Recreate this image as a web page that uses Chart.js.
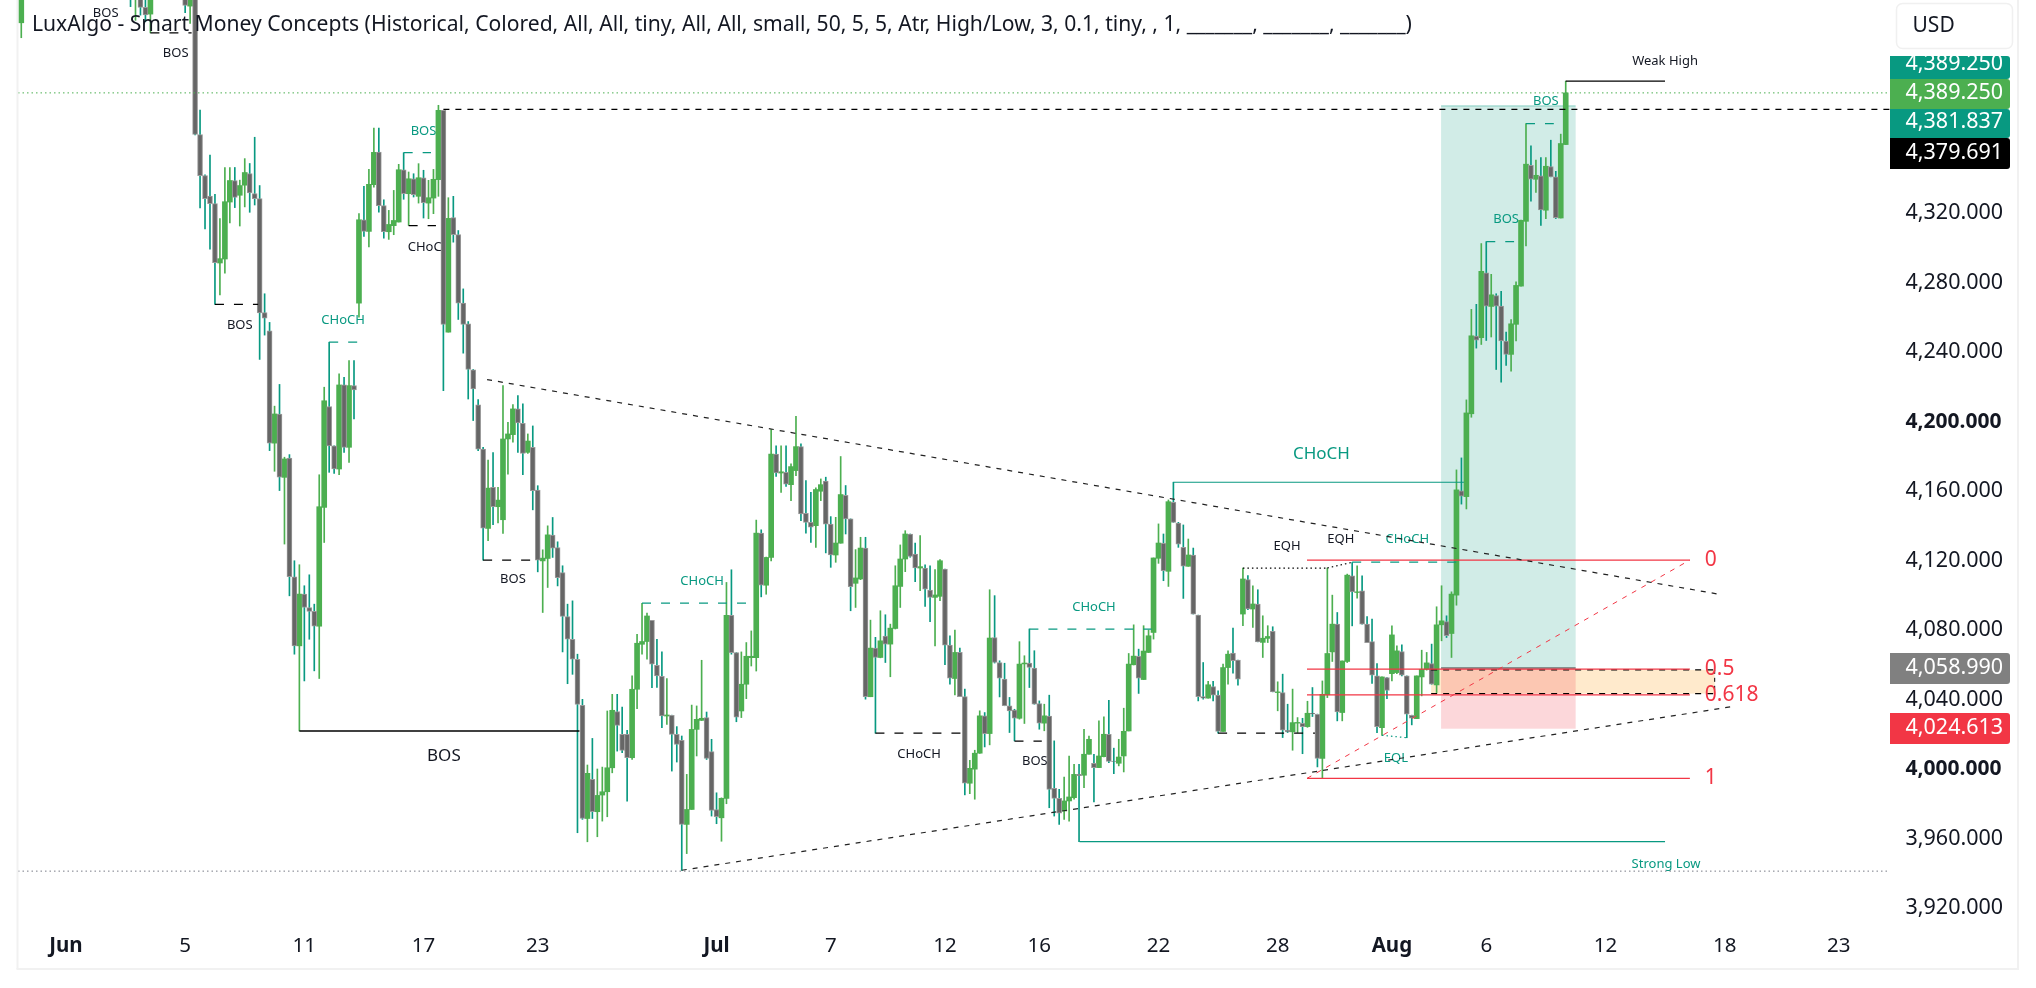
<!DOCTYPE html>
<html><head><meta charset="utf-8"><title>Chart</title>
<style>html,body{margin:0;padding:0;background:#fff;overflow:hidden}canvas{display:block}</style>
<script src="https://cdn.jsdelivr.net/npm/chart.js@4"></script></head><body>
<canvas id="c" width="2036" height="988" style="width:2036px;height:988px"></canvas>
<script>
const FONT='"Noto Sans"';
const xTickIndex=[9,33,57,81,104,140,163,186,205,229,253,276,295,319,343,366];
const xTickLabels=['Jun','5','11','17','23','Jul','7','12','16','22','28','Aug','6','12','18','23'];
const yTicks=[3920,3960,4000,4040,4080,4120,4160,4200,4240,4280,4320];
const N=null;
const opens=[4429.6,N,N,N,N,N,N,N,N,N,N,N,N,N,N,N,N,N,N,N,N,N,
4460,4446,4450,4438.5,4434.6,N,N,N,N,N,N,4450,4439.2,4445,4365.3,4341.6,4329.9,4325.5,
4291.3,4293.6,4326.4,4338.8,4330.3,4336.1,4342.8,4331.3,4328.4,4262.7,
4252.3,4187.6,4204.3,4167.9,4179,4110.7,4070.9,4100.7,4093,4090.7,
4082.2,4150.6,4208.6,4186,4172.7,4221.1,4185.2,4220.7,4268.2,4316.2,
4309.5,4336.4,4355.2,4324.3,4309.3,4312.8,4314.9,4345,4331.2,4339.7,
4329.7,4340.4,4325.8,4328.7,4339.3,4379.2,4251.5,4317.4,4307.6,4268.2,
4256.3,4229.8,4209.6,4184.2,4138.5,4162.1,4151,4143.5,4190,4192.5,
4207.3,4199,4182.3,4185.2,4160.6,4119.8,4121.2,4134.6,4127.5,4113.1,
4087.8,4074.7,4063.2,4036.7,3971.5,3994,3975.4,3985,3986.9,4000.7,
4033,4020,4020,4006.5,4045.9,4071.8,4073.4,4085.6,4059.7,4053.4,
4030.5,4030.9,4019.9,4016.5,3968.1,3976.7,4022.8,4028,4029.6,4010,
3976.7,3971.9,3983.1,4088.5,4067,4033.4,4048.8,4064.1,4064.1,4135.8,
4105.8,4121.8,4181.3,4170.4,4170.8,4163.7,4171.8,4185.6,4147.2,4142,
4140.1,4159.9,4165.7,4141,4123.2,4130,4157.6,4144,4106.9,4109.4,
4127.2,4041.6,4069.6,4064.2,4076.5,4071.9,4080.9,4105.1,4120.9,4135.3,
4123.8,4115.7,4115.7,4103,4098.8,4099.4,4115.1,4071.3,4052.1,4067.1,
4041.7,3991.8,3999.9,4009.1,4030.6,4020.4,4075.7,4061.3,4051.7,4036.4,
4033.9,4029.2,4060.5,4061,4058.1,4037.7,4026.4,4030.4,3988.9,3983.1,
3975.8,3981.6,3983.5,3996.9,3996.4,4008.5,4003.3,4000.8,4007.1,4020,
4004.6,4003.3,4007.5,4021.9,4060,4064.8,4051.5,4067.1,4078.6,4121.3,
4129.9,4113.8,4153.5,4141.6,4127.6,4116.7,4123.2,4088.6,4041.7,4040.8,
4047.5,4042.5,4021.6,4058.4,4066.7,4062.7,4089.2,4109,4092.1,4095,
4072.9,4075.2,4079.2,4044,4044,4022.3,4021.4,4026.4,4026.3,4024.4,
4032.1,4031.5,4006.1,4042.7,4067.4,4083.4,4032.5,4061.9,4111.2,4101.6,
4102.6,4083.4,4073.4,4053.6,4023.8,4052.6,4054.9,4055.5,4067.6,4053.6,
4030.9,4029,4053,4057.4,4060.7,4048.4,4083,4084.9,4078,4100.1,
4160.2,4156.8,4204.5,4249.2,4248.3,4285.7,4266.3,4272.5,4266.5,4246.4,
4238.7,4256,4278,4315.3,4347.6,4339.5,4341.5,4321.7,4346.8,4340.9,
4317.2,4359.5];
const closes=[4450,N,N,N,N,N,N,N,N,N,N,N,N,N,N,N,N,N,N,N,N,N,
4450,4455,4438.5,4434.2,4446,N,N,N,N,N,N,4439.6,4445,4365.3,4341.6,4328.4,4325.5,4291.5,
4293.8,4326.6,4338.8,4329,4335.9,4343.4,4331.6,4328.4,4262.5,4259.6,
4187.6,4204.4,4168,4178.5,4110.7,4070.9,4100.7,4093,4090.7,4082.2,
4151,4212,4186,4172.7,4221.1,4185.2,4220.7,4218.2,4316.2,4309.5,
4336.6,4355,4324.3,4309.3,4313.5,4315.8,4345,4331.2,4339.8,4330.6,
4340.4,4326,4328.9,4339.5,4379.2,4255.9,4317,4307.6,4268.2,4255.9,
4230,4218.8,4184.2,4138.7,4161.7,4151,4154.8,4190,4192.9,4207.3,
4199.2,4181.7,4188.8,4160.2,4120.2,4121.4,4134.8,4127.2,4110.2,4087.8,
4074.7,4063.2,4037.2,3971.5,3997.5,3975.4,3984.8,3986.9,4000.7,4033.8,
4025.1,4010.7,4006.5,4045.9,4072.4,4073.4,4088.1,4060.3,4053.6,4030.5,
4031.1,4019.9,4014.2,3968.1,3976.7,4022.8,4028.6,4029.2,4006.1,3976.1,
3972.5,3983.1,4088.5,4067,4029.9,4048.8,4064.9,4064.9,4135.8,4105.8,
4121.8,4181.3,4170.4,4171.1,4164,4174.1,4185.6,4146.8,4142,4139.2,
4160.9,4163.7,4141,4123.2,4130.1,4158,4144,4105,4110,4127.2,
4041.7,4069.6,4064.2,4073.8,4071.9,4081.1,4105.5,4120.9,4135.3,4122.4,
4115.7,4116.5,4103.6,4098.8,4100.2,4119.9,4071.3,4052.3,4067.1,4041.7,
3991.8,4000.4,4009.1,4030.6,4020.4,4075.4,4061.3,4052.3,4036.4,4033.5,
4029.2,4060.4,4061,4058.5,4037.3,4026.4,4030.6,3988.3,3983.1,3974.5,
3981.6,3983.9,3996.9,3996.2,4008.5,4017.1,4000.8,4007.5,4020,4004.3,
4004.3,4006.9,4021.7,4060.4,4065,4052.3,4067.9,4076.7,4121.5,4130.1,
4114.2,4153.9,4142,4129.5,4116.7,4123.2,4089.2,4041.7,4040.8,4048.5,
4042.5,4021.6,4058.4,4066.1,4062.3,4051.7,4109.4,4092.1,4095,4073.2,
4075.3,4076.3,4044.4,4044.4,4022.3,4021.4,4026.7,4026.8,4024.4,4032.1,
4031.7,4006.1,4043,4066.5,4083.4,4032.9,4062.2,4111.6,4102,4102,
4083.4,4072.8,4054,4024.4,4053,4045.3,4077.2,4068,4054,4031.5,
4029.2,4053.6,4057.4,4061.1,4048.8,4083,4085.3,4076.7,4100.7,4160.7,
4157,4205,4249.4,4246.9,4286.5,4266.5,4273,4266.5,4246.4,4238.7,
4256.3,4278.4,4315.9,4348.2,4339.5,4341.8,4321.9,4347,4340.9,4317.4,
4360.1,4389.25];
const highs=[4455,N,N,N,N,N,N,N,N,N,N,N,N,N,N,N,N,N,N,N,N,N,
4465,4460,4455,4445,4450,N,N,N,N,N,N,4455,4450,4450,4379.3,4342,4353.4,4330.9,
4316.9,4346.3,4346.3,4346.3,4339,4351.4,4348.6,4363.7,4335.9,4273.6,
4257.1,4208.9,4221.4,4179.5,4181,4119.9,4117.6,4105.5,4111.8,4094.9,
4169.4,4219.8,4245.7,4186,4227.5,4225.5,4235.1,4235.1,4319.7,4335.4,
4345.2,4369,4369,4327.7,4321.6,4333.1,4348.1,4354.8,4343.7,4342.7,
4348.5,4344.7,4338.9,4345.2,4382.1,4379.2,4328.9,4329.7,4310,4276.4,
4257.6,4230,4212.7,4185.2,4177.9,4182.1,4162.1,4220.7,4199.6,4209.8,
4215,4210.2,4192.9,4197.5,4163.1,4126.2,4140,4144.8,4130.8,4117,
4094.9,4096.8,4066.1,4040.1,4002.3,4017.6,4000,4001.1,4033.4,4043,
4043,4035.7,4022.2,4053.6,4077.6,4095.4,4089.7,4085.6,4074.7,4067.4,
4052,4031,4024.4,4019,3996.9,4036.8,4036.3,4062.6,4032.8,4017.1,
3986.3,3983.4,4107.4,4114.7,4067,4067.4,4072.8,4079.5,4143.3,4137.7,
4122,4195.4,4186.1,4186.1,4186.1,4175.7,4203,4187.2,4166.1,4159.3,
4161.8,4167,4168,4145.3,4144.9,4179.9,4163.2,4144,4126.3,4133.4,
4133.4,4085.7,4075.8,4091.1,4088.8,4083.4,4117,4129,4137.2,4135.3,
4130.1,4134.4,4117.6,4117,4114.8,4120.5,4115.1,4076.7,4080,4069.6,
4046,4005,4010.8,4033.5,4032.5,4103.2,4099.8,4062.3,4060.9,4041.2,
4034.4,4073.3,4065.2,4080.6,4068.1,4039.2,4037.3,4042.5,4016.2,3988.3,
3995.4,4007.5,4002.7,4002.7,4022.9,4019,4008.5,4027.7,4030,4039.6,
4012,4017.1,4035,4066.5,4083,4069,4082.5,4080,4121.5,4141.1,
4135.3,4154.9,4165.1,4142,4140.5,4132.4,4127.2,4088.6,4061.3,4050.4,
4050.4,4045,4060.4,4068,4081.1,4062.7,4115.7,4111.3,4105.5,4103.2,
4088.2,4082.5,4081.9,4050.2,4054.6,4037.3,4046,4029.6,4029.2,4039,
4046.9,4031.6,4050.7,4115.7,4100.1,4090.1,4062.2,4112.2,4118.9,4117,
4111.2,4087.8,4086.3,4060.7,4053,4052.6,4082.4,4070.9,4071.5,4053.6,
4031,4053.6,4068.4,4067.1,4071.9,4093.4,4105.5,4088.2,4102,4172.2,
4179.1,4212.5,4264.6,4267.5,4302.5,4303.6,4284.8,4273.6,4275,4251.5,
4258.8,4280.4,4316,4371.6,4358.7,4350.5,4352,4352,4362,4344.1,
4365.5,4396];
const lows=[4421,N,N,N,N,N,N,N,N,N,N,N,N,N,N,N,N,N,N,N,N,N,
4438.9,4431,4434,4430.2,4423.8,N,N,N,N,N,N,4435.4,4429.3,4365,4323,4310.9,4299.2,4267.5,
4272.9,4285.5,4314.4,4323.2,4312.6,4323.6,4320.5,4324.7,4235.8,4249.8,
4183.3,4171.4,4160.3,4129.5,4099.7,4066.1,4021.9,4050.7,4074.7,4056.5,
4052.1,4130.4,4170.8,4170.2,4169.4,4182.3,4176.5,4201.5,4260.1,4306.6,
4300.5,4335,4320.6,4305.6,4304.9,4307.6,4314.9,4328,4313,4329.3,
4325.8,4317.2,4316.8,4319.7,4329.7,4217.8,4251.5,4303.3,4258.8,4239.4,
4213,4200.6,4183.3,4120.2,4131.4,4140.6,4141.6,4135.6,4169.8,4188.1,
4182.3,4169.4,4181.7,4149.2,4113.5,4090.1,4104.5,4121.8,4105.4,4067.4,
4049.1,4054.5,3963.3,3971,3958.1,3971.5,3961,3970,3972.5,3997.8,
4010.3,4009.4,3981.5,4005.5,4034.7,4066.1,4063.2,4046.8,4047,4023.8,
4025.7,3998.8,4004,3941.6,3951.3,3976.7,4007.5,4027.9,4005.5,3972.9,
3968.5,3958.4,3980,4066.1,4027.2,4029.6,4040.5,4059.3,4056.4,4099.1,
4100.6,4119.8,4168.5,4159.2,4162.7,4154.5,4168.9,4143,4135.7,4130.5,
4127.6,4154.5,4124.4,4116.1,4119,4130,4135.3,4091.1,4093,4109,
4040.2,4041.6,4020.6,4064,4061.3,4053.1,4080.6,4093,4113.6,4121.9,
4107.8,4102.6,4093.6,4084.8,4070.9,4096.9,4060,4048.8,4042.7,4041.7,
3985.1,3985.8,3982.6,4009,4012.7,4013.9,4061,4041.5,4036.4,4021,
4016.2,4028.7,4026.2,4046.9,4037.3,4022.9,4022,3977.7,3972.9,3968.1,
3971,3970,3982.6,3958.2,3989.3,4008.5,3981,4000.8,4007,4003.7,
3997.3,4001.8,3998.3,4021.9,4059.9,4043.5,4051.5,4067,4074.8,4118.4,
4108.4,4105.1,4142,4127.6,4098.2,4116.7,4089.2,4039.2,4040.2,4040.8,
4039.2,4020.6,4021.6,4048.8,4055.2,4048.3,4082.5,4091.7,4081.5,4073.2,
4064.2,4072.8,4044.4,4033.5,4018.1,4021,4010.8,4021,4008.8,4024,
4030.2,4001.2,3995,4041.1,4061.9,4027.7,4027.7,4061.3,4082.4,4098.4,
4083.4,4072.8,4049.2,4020.9,4019.4,4040.5,4050.7,4054.9,4053.6,4018,
4025.4,4029,4042.1,4056.9,4048.8,4044,4073.8,4075.7,4064.2,4094.3,
4152.5,4149.7,4202.5,4242.3,4244.4,4246.7,4248.7,4230,4222.7,4232.3,
4229.1,4246.4,4278,4301.1,4326.9,4331.9,4313,4316.9,4340.9,4316.9,
4317.2,4359.5];

// overlay levels, as [index, price, index, price]
const dashedBlack=[[26,4423.8,34.3,4423.8],[39,4267.5,47.7,4267.5],[78,4312.8,83.5,4312.8],[93,4120.3,102.6,4120.3],
 [172,4020.6,189.4,4020.6],[200,4016.1,205.5,4016.1],[241,4020.6,260.5,4020.6]];
const dashedTeal=[[62,4245.7,67.7,4245.7],[77,4354.8,82.5,4354.8],[125,4095.5,146.3,4095.5],[203,4080.5,227.6,4080.5],
 [268,4119.1,289,4119.1],[295,4303.6,300.6,4303.6],[303,4371.6,308.6,4371.6]];
const solidBlack=[[56,4021.9,112.4,4021.9],[311,4396,331,4396]];
const solidTeal=[[232,4165.1,290.5,4165.1],[213.1,3958.2,331,3958.2]];
const trendLines=[[93.8,4224.2,342.5,4100.3],[133,3941.7,344.5,4035.9]];
const dottedBlack=[[246,4115.7,263,4115.7],[263,4115.7,268,4119]];
const dottedTeal=[[274,4019.4,279,4018]];
const fibTrend=[258.9,3994.6,336,4120.3];
const fibLevels=[4120.3,4057.5,4042.7,3994.6];
const fibNames=['0','0.5','0.618','1'];
const fibSpan=[258.9,336];
const fibLabelAt=339;
const lastPrice=4389.25, strongLowLevel=3941.2, prevHigh=4379.7;
const greenBox=[285.9,313,4381.6,4058];
const redBox=[285.9,313,4058,4023.2];
const orangeBox=[283.9,341,4057.1,4043.4];
// small labels: text, index, price
const blackLabels=[['BOS',17,4435],['BOS',31.1,4411.9],['BOS',44,4255.7],['CHoCH',82.2,4300.5],['BOS',99,4109],
 ['CHoCH',180.8,4008.5],['BOS',204.1,4004.6],['EQH',254.9,4128],['EQH',265.7,4132.2],['Weak High',331,4407.7]];
const tealLabels=[['CHoCH',64.8,4258.6],['BOS',81,4367.3],['CHoCH',137.1,4108.2],['CHoCH',216,4093],['CHoCH',279.1,4132.2],
 ['EQL',276.8,4006.2],['BOS',299,4316.3],['BOS',307,4384.6],['Strong Low',331.2,3945.4]];
const bigLabels=[['BOS',85.1,4007.5,'#131722'],['CHoCH',261.8,4181,'#089981']];
const tagValues=[4389.25,4389.25,4381.837,4379.691,4058.99,4024.613];
const tagColours=['#089981','#4CAF50','#089981','#000000','#808080','#F23645'];
const titleText='LuxAlgo - Smart Money Concepts (Historical, Colored, All, All, tiny, All, All, small, 50, 5, 5, Atr, High/Low, 3, 0.1, tiny, , 1, _______, _______, _______)';

const XMIN=-0.66,XMAX=376.3,YMIN=3907.31,YMAX=4442.72;
const body=(up)=>opens.map((o,i)=>o===null?null:((closes[i]>=o)===up?{x:i,y:[o,closes[i]]}:null)).filter(Boolean);
const wick=(up)=>opens.map((o,i)=>o===null?null:((closes[i]>=o)===up?{x:i,y:[lows[i],highs[i]]}:null)).filter(Boolean);
const seg=(s,color,dash,width,order)=>({type:'line',data:[{x:s[0],y:s[1]},{x:s[2],y:s[3]}],borderColor:color,borderDash:dash,borderWidth:width,pointRadius:0,tension:0,order:order||2,fill:false});
const ds=[];
ds.push({type:'bar',data:wick(true),backgroundColor:'#4CAF50',barThickness:1,grouped:false,order:9,borderWidth:0});
ds.push({type:'bar',data:wick(false),backgroundColor:'#089981',barThickness:1,grouped:false,order:8,borderWidth:0});
ds.push({type:'bar',data:body(true),backgroundColor:'#4CAF50',barThickness:5,grouped:false,order:7,borderWidth:0});
ds.push({type:'bar',data:body(false),backgroundColor:'#666666',borderColor:'#9a9a9a',borderWidth:1,borderSkipped:false,barThickness:5,grouped:false,order:6});
dashedBlack.forEach(s=>ds.push(seg(s,'#000000',[9,10],1.3)));
dashedTeal.forEach(s=>ds.push(seg(s,'#089981',[9,10],1.2)));
solidBlack.forEach(s=>ds.push(seg(s,'#000000',[],1.4)));
solidTeal.forEach(s=>ds.push(seg(s,'#089981',[],1.1)));
trendLines.forEach(s=>ds.push(seg(s,'#222222',[5,6],1.2)));
dottedBlack.forEach(s=>ds.push(seg(s,'#000000',[1.5,3],1.2)));
dottedTeal.forEach(s=>ds.push(seg(s,'#089981',[1.5,3],1.2)));
ds.push(seg(fibTrend,'#F23645',[5,6],1));
fibLevels.forEach(v=>ds.push(seg([fibSpan[0],v,fibSpan[1],v],'#F23645',[],1.3)));
ds.push(seg([XMIN,lastPrice,XMAX,lastPrice],'#4CAF50',[1.5,3],1));
ds.push(seg([XMIN,strongLowLevel,XMAX,strongLowLevel],'#787B86',[1.5,3],1));
ds.push(seg([85,prevHigh,XMAX,prevHigh],'#000000',[6,6],1.3));
ds.push(seg([orangeBox[0],orangeBox[2],orangeBox[1],orangeBox[2]],'#000000',[6,6],1.2));
ds.push(seg([orangeBox[0],orangeBox[3],orangeBox[1],orangeBox[3]],'#000000',[6,6],1.2));
ds.push(seg([orangeBox[1],orangeBox[2],orangeBox[1],orangeBox[3]],'#000000',[4,4],1));

const fmt=v=>v.toLocaleString('en-US',{minimumFractionDigits:3,maximumFractionDigits:3});
const under={id:'under',beforeDatasetsDraw(ch){
  const c=ch.ctx,X=ch.scales.x,Y=ch.scales.y;
  const rect=(b,fill)=>{const x1=X.getPixelForValue(b[0]),x2=X.getPixelForValue(b[1]),y1=Y.getPixelForValue(b[2]),y2=Y.getPixelForValue(b[3]);c.fillStyle=fill;c.fillRect(x1,y1,x2-x1,y2-y1);};
  c.save();
  rect(orangeBox,'rgba(255,152,0,0.2)');
  rect(greenBox,'rgba(8,153,129,0.19)');
  rect(redBox,'rgba(242,54,69,0.2)');
  rect([greenBox[0],greenBox[1],greenBox[2]+0.6,greenBox[2]-0.3],'rgba(8,153,129,0.3)');
  rect([redBox[0],redBox[1],redBox[2]+0.6,redBox[2]-0.3],'rgba(90,90,90,0.8)');
  c.textAlign='center';c.textBaseline='middle';
  c.font='13px '+FONT;c.fillStyle='#131722';
  blackLabels.forEach(l=>c.fillText(l[0],X.getPixelForValue(l[1]),Y.getPixelForValue(l[2])));
  c.fillStyle='#089981';
  tealLabels.forEach(l=>c.fillText(l[0],X.getPixelForValue(l[1]),Y.getPixelForValue(l[2])));
  c.font='17px '+FONT;
  bigLabels.forEach(l=>{c.fillStyle=l[3];c.fillText(l[0],X.getPixelForValue(l[1]),Y.getPixelForValue(l[2]));});
  c.restore();
}};
const over={id:'over',afterDraw(ch){
  const c=ch.ctx,X=ch.scales.x,Y=ch.scales.y;
  c.save();
  c.font='21px '+FONT;c.fillStyle='#F23645';c.textAlign='left';c.textBaseline='middle';
  fibNames.forEach((n,i)=>c.fillText(n,X.getPixelForValue(fibLabelAt),Y.getPixelForValue(fibLevels[i])));
  c.fillStyle='#131722';c.font='21.1px '+FONT;c.textBaseline='middle';
  c.fillText(titleText,32,25);
  // frame
  c.fillStyle='#f1f1f1';c.fillRect(16.5,0,2,969);c.fillRect(2017,0,2,969);c.fillRect(16.5,968,2002.5,2);
  // price tags
  const layout=[[56,79,63.5],[79,109,93],[109,138,122],[138,169,152.5],[653,684,668],[713,744,728]];
  tagValues.forEach((v,i)=>{
    const L=layout[i];
    c.save();c.beginPath();c.roundRect(1890,L[0],120,L[1]-L[0],[0,3,3,0]);c.clip();
    c.fillStyle=tagColours[i];c.fillRect(1890,L[0],120,L[1]-L[0]);
    c.fillStyle='#ffffff';c.font='21.5px '+FONT;c.textAlign='left';c.textBaseline='middle';
    c.fillText(fmt(v),1905.5,L[2]);c.restore();
  });
  // currency box
  c.beginPath();c.roundRect(1896.5,3.5,116,45,6);c.fillStyle='#fff';c.fill();c.strokeStyle='#f0f0f0';c.lineWidth=1.5;c.stroke();
  c.fillStyle='#131722';c.font='21px '+FONT;c.textAlign='left';c.textBaseline='middle';c.fillText('USD',1912.5,26);
  c.restore();
}};
new Chart(document.getElementById('c'),{type:'bar',data:{datasets:ds},plugins:[under,over],options:{
  responsive:false,animation:false,devicePixelRatio:1,
  layout:{padding:{left:18,right:0,top:0,bottom:0}},
  plugins:{legend:{display:false},tooltip:{enabled:false},title:{display:false}},
  elements:{line:{capBezierPoints:false}},
  scales:{
    x:{type:'linear',min:XMIN,max:XMAX,offset:false,position:'bottom',border:{display:false},grid:{display:false,drawTicks:false},
      afterBuildTicks:s=>{s.ticks=xTickIndex.map(v=>({value:v}));},
      afterFit:s=>{s.height=58;s.paddingLeft=s.paddingRight=s.paddingTop=s.paddingBottom=0;},
      ticks:{autoSkip:false,maxRotation:0,minRotation:0,padding:4,color:'#131722',
        callback:v=>xTickLabels[xTickIndex.indexOf(v)],
        font:ctx=>({family:FONT,size:20.5,weight:(ctx.tick&&xTickLabels[xTickIndex.indexOf(ctx.tick.value)].length===3)?'bold':'normal'})}},
    y:{type:'linear',min:YMIN,max:YMAX,position:'right',border:{display:false},grid:{display:false,drawTicks:false},
      afterBuildTicks:s=>{s.ticks=yTicks.map(v=>({value:v}));},
      afterFit:s=>{s.width=146;s.paddingLeft=s.paddingRight=s.paddingTop=s.paddingBottom=0;},
      ticks:{autoSkip:false,padding:15.5,crossAlign:'near',color:'#131722',callback:v=>fmt(v),
        font:ctx=>{const b=ctx.tick&&(ctx.tick.value===4000||ctx.tick.value===4200);return {family:FONT,size:b?21:21.5,weight:b?'bold':'normal'};}}}
  }
}});
</script></body></html>
